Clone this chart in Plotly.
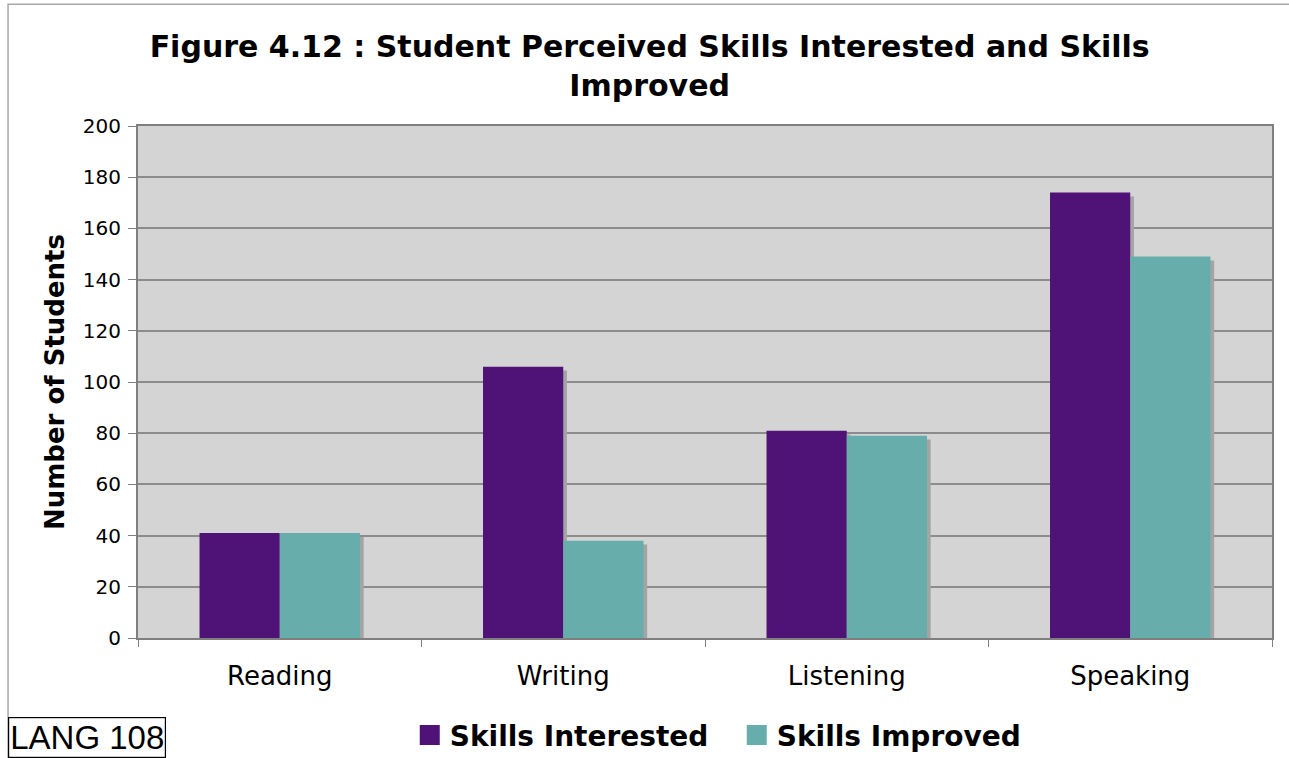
import plotly.graph_objects as go

categories = ["Reading", "Writing", "Listening", "Speaking"]
skills_interested = [41, 106, 81, 174]
skills_improved = [41, 38, 79, 149]
series_names = ["Skills Interested", "Skills Improved"]
y_ticks = [0, 20, 40, 60, 80, 100, 120, 140, 160, 180, 200]

PURPLE = "#4f1276"
TEAL = "#66adab"
SHADOW = "#a4a4a4"
BAR_W = 0.283
SHADOW_DX = 0.013
SHADOW_DY = -1.5

fig = go.Figure()

# subtle drop shadows (same data, drawn behind)
for vals, off in [(skills_interested, -BAR_W), (skills_improved, 0.0)]:
    fig.add_trace(go.Bar(
        x=categories, y=vals, base=[SHADOW_DY] * len(vals),
        width=[BAR_W] * len(vals), offset=[off + SHADOW_DX] * len(vals),
        marker=dict(color=SHADOW, line=dict(width=0)),
        showlegend=False, hoverinfo="skip"))

for vals, off, name, col in [(skills_interested, -BAR_W, series_names[0], PURPLE),
                             (skills_improved, 0.0, series_names[1], TEAL)]:
    fig.add_trace(go.Bar(
        x=categories, y=vals, name=name, legendgroup=name, showlegend=False,
        width=[BAR_W] * len(vals), offset=[off] * len(vals),
        marker=dict(color=col, line=dict(width=0))))
    # legend entry with a larger square swatch
    fig.add_trace(go.Scatter(
        x=[None], y=[None], mode="markers", name=name, legendgroup=name,
        marker=dict(symbol="square", size=16, color=col, line=dict(color=col, width=4)),
        hoverinfo="skip"))

FONT = "DejaVu Sans, Verdana, sans-serif"

fig.update_layout(
    width=1289, height=758,
    margin=dict(l=138, r=17, t=126, b=120, autoexpand=False),
    paper_bgcolor="white", plot_bgcolor="#d4d4d4",
    barmode="overlay",
    title=dict(
        text="<b>Figure 4.12 : Student Perceived Skills Interested and Skills<br>Improved</b>",
        x=0.504, xref="container", xanchor="center",
        y=0.925, yref="container", yanchor="top",
        font=dict(family=FONT, size=30, color="black")),
    font=dict(family=FONT, color="black"),
    showlegend=True,
    legend=dict(orientation="h", x=0.528, xanchor="center", y=-0.19, yanchor="middle",
                font=dict(family=FONT, size=28, color="black", weight="bold"),
                itemwidth=30, entrywidth=282, traceorder="normal",
                bgcolor="rgba(0,0,0,0)"),
    xaxis=dict(
        type="category", range=[-0.5, 3.5], automargin=False,
        showline=True, linecolor="#7f7f7f", linewidth=2, mirror=True,
        ticks="outside", tickson="boundaries", ticklen=7, tickcolor="#7f7f7f",
        ticklabelstandoff=14,
        tickfont=dict(family=FONT, size=26, color="black"),
        showgrid=False, zeroline=False),
    yaxis=dict(
        range=[0, 200], tickvals=y_ticks, automargin=False,
        showline=True, linecolor="#7f7f7f", linewidth=2, mirror=True,
        ticks="outside", ticklen=8, tickcolor="#7f7f7f",
        ticklabelstandoff=3,
        tickfont=dict(family=FONT, size=20, color="black"),
        showgrid=True, gridcolor="#8c8c8c", gridwidth=1.5, zeroline=False,
        title=dict(text="<b>Number of Students</b>", standoff=11,
                   font=dict(family=FONT, size=26, color="black"))),
    shapes=[dict(type="rect", xref="paper", yref="paper",
                 x0=-0.1146, x1=1.03, y0=-0.26, y1=1.238,
                 line=dict(color="#a8a8a8", width=1.5), layer="below")],
    annotations=[dict(
        text="LANG 108", xref="paper", yref="paper",
        x=-0.1146, y=-0.155, xanchor="left", yanchor="top", showarrow=False,
        font=dict(family="Liberation Sans, Arial, sans-serif", size=33, color="black"),
        bordercolor="black", borderwidth=1.2, borderpad=1, bgcolor="white")],
)

fig.write_html("out.html", config={"displayModeBar": False},
               post_script="document.body.style.margin='0';")
